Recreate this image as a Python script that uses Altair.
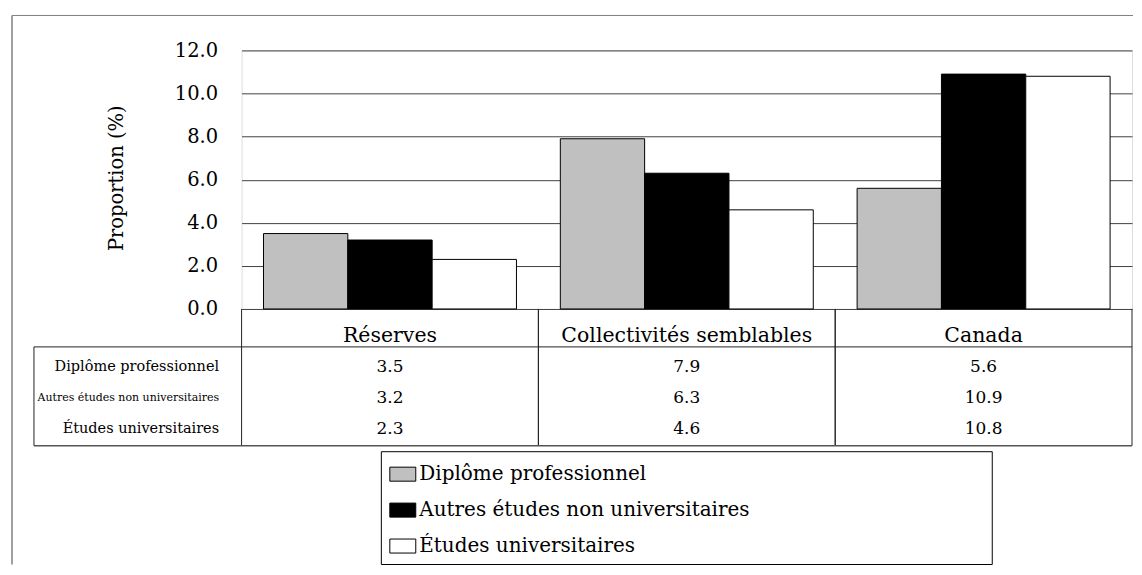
import altair as alt
import pandas as pd

categories = ["Réserves", "Collectivités semblables", "Canada"]
series = ["Diplôme professionnel", "Autres études non universitaires", "Études universitaires"]
values_prof = [3.5, 7.9, 5.6]
values_autres = [3.2, 6.3, 10.9]
values_univ = [2.3, 4.6, 10.8]
y_ticks = [0, 2, 4, 6, 8, 10, 12]
colors = ["#C0C0C0", "#000000", "#FFFFFF"]

rows = []
for s, vals in zip(series, [values_prof, values_autres, values_univ]):
    for c, v in zip(categories, vals):
        rows.append({"categorie": c, "serie": s, "valeur": v})
df = pd.DataFrame(rows)
cat_df = pd.DataFrame({"categorie": categories})
one_df = pd.DataFrame({"k": [0]})

W, H = 892, 259
FONT = "DejaVu Serif"
LINE = "#222222"

x_scale = alt.Scale(domain=categories, paddingInner=0, paddingOuter=0)
x_axis = alt.Axis(orient="bottom", title=None, labelFont=FONT, labelFontSize=20.5,
                  labelColor="black", labelPadding=27, labelBaseline="middle",
                  labelAngle=0, domain=False, ticks=False, tickSize=0, grid=False,
                  labelLimit=400)


def x_enc(**kw):
    return alt.X("categorie:N", sort=categories, scale=x_scale, axis=x_axis, **kw)


bars = alt.Chart(df).mark_bar(stroke="black", strokeWidth=1).encode(
    x=x_enc(),
    xOffset=alt.XOffset("serie:N", sort=series,
                        scale=alt.Scale(domain=series, paddingInner=0, paddingOuter=0.26)),
    y=alt.Y("valeur:Q", scale=alt.Scale(domain=[0, 12], nice=False),
            axis=alt.Axis(values=y_ticks, format=".1f", title="Proportion (%)",
                          titleFont=FONT, titleFontSize=19.5, titleFontWeight="normal",
                          titleColor="black", titleX=-125, titleY=127.5,
                          titleBaseline="middle", titleAlign="center", titleAngle=270,
                          labelFont=FONT, labelFontSize=19.5, labelColor="black",
                          labelPadding=24, ticks=False, tickSize=0, domain=False,
                          grid=True, gridColor="#404040", gridWidth=1)),
    color=alt.Color("serie:N", sort=series,
                    scale=alt.Scale(domain=series, range=colors),
                    legend=alt.Legend(title=None, orient="none", legendX=148, legendY=411,
                                      direction="vertical",
                                      symbolType="M-1,-0.54H1V0.54H-1Z", symbolSize=676,
                                      symbolStrokeColor="black", symbolStrokeWidth=1,
                                      symbolOpacity=1,
                                      labelFont=FONT, labelFontSize=20, labelColor="black",
                                      labelOffset=3, rowPadding=12, padding=0,
                                      labelLimit=700)),
)

table_text = alt.Chart(df).mark_text(font=FONT, fontSize=17, color="black",
                                     baseline="middle").encode(
    x=x_enc(),
    y=alt.Y("serie:N", sort=series,
            scale=alt.Scale(type="point", domain=series, range=[317, 379], padding=0),
            axis=alt.Axis(orient="left", title=None, domain=False, ticks=False, tickSize=0,
                          grid=False, labelPadding=23, labelColor="black", labelFont=FONT,
                          labelBaseline="middle", labelLimit=400,
                          labelFontSize={"condition": {"test": "datum.value === 'Autres études non universitaires'",
                                                       "value": 11},
                                         "value": 14.5})),
    text=alt.Text("valeur:Q", format=".1f"),
)

vlines_start = alt.Chart(cat_df).mark_rule(color=LINE, strokeWidth=1).encode(
    x=x_enc(bandPosition=0), y=alt.value(259), y2=alt.value(396))
vlines_end = alt.Chart(cat_df).mark_rule(color=LINE, strokeWidth=1).encode(
    x=x_enc(bandPosition=1), y=alt.value(259), y2=alt.value(396))

h_head = alt.Chart(one_df).mark_rule(color=LINE, strokeWidth=1).encode(
    x=alt.value(-208), x2=alt.value(W), y=alt.value(297))
h_bottom = alt.Chart(one_df).mark_rule(color="#555555", strokeWidth=1.5).encode(
    x=alt.value(-208), x2=alt.value(W), y=alt.value(396))
v_label = alt.Chart(one_df).mark_rule(color=LINE, strokeWidth=1).encode(
    x=alt.value(-208), y=alt.value(297), y2=alt.value(396))

frame_top = alt.Chart(one_df).mark_rule(color="#808080", strokeWidth=1).encode(
    x=alt.value(-230), x2=alt.value(893), y=alt.value(-35))
frame_left = alt.Chart(one_df).mark_rule(color="#808080", strokeWidth=1.5).encode(
    x=alt.value(-230), y=alt.value(-35), y2=alt.value(515))

legend_box = alt.Chart(one_df).mark_rect(fillOpacity=0, stroke="black", strokeWidth=1).encode(
    x=alt.value(140), x2=alt.value(752), y=alt.value(402), y2=alt.value(515))

chart = alt.layer(
    frame_top, frame_left, legend_box,
    bars, vlines_start, vlines_end, h_head, h_bottom, v_label, table_text,
).resolve_scale(y="independent").resolve_axis(y="independent").properties(
    width=W, height=H,
    padding={"left": 3, "top": 6, "right": 0, "bottom": 0},
).configure_view(stroke="black", strokeWidth=1).configure(font=FONT)

chart.save("out.html", embed_options={"renderer": "svg", "actions": False})
